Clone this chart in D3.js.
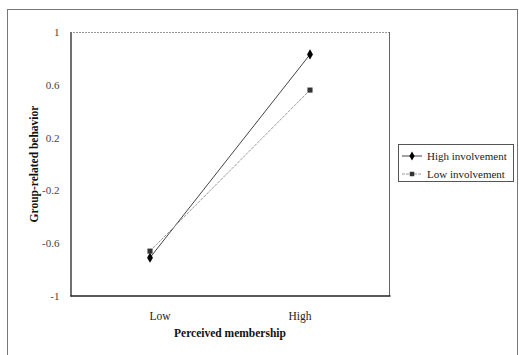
<!DOCTYPE html>
<html><head><meta charset="utf-8">
<script src="https://cdn.jsdelivr.net/npm/d3@7"></script>
<style>body{margin:0;background:#fff}svg{display:block}text{font-family:"Liberation Serif","Times New Roman",serif}</style>
</head><body><svg id="c" width="519" height="355"></svg>
<script>
const categories = ["Low", "High"];
const seriesNames = ["High involvement", "Low involvement"];
const highInvolvement = [-0.71, 0.83];
const lowInvolvement = [-0.66, 0.56];
const yTicks = [-1, -0.6, -0.2, 0.2, 0.6, 1];
const xTitle = "Perceived membership";
const yTitle = "Group-related behavior";

const svg = d3.select("#c");
// outer frame
svg.append("rect").attr("x", 7.5).attr("y", 9.5).attr("width", 510).attr("height", 350)
  .attr("fill", "none").attr("stroke", "#777").attr("stroke-width", 1);

const L = 70, R = 390, T = 32, B = 296;
const x = d3.scaleBand().domain(categories).range([L, R]);
const y = d3.scaleLinear().domain([-1, 1]).range([B, T]);

// plot border
svg.append("line").attr("x1", L).attr("x2", R).attr("y1", T + 0.5).attr("y2", T + 0.5).attr("stroke", "#999").attr("stroke-dasharray", "2,1");
svg.append("line").attr("x1", R - 0.5).attr("x2", R - 0.5).attr("y1", T).attr("y2", B).attr("stroke", "#666");

const yAxis = d3.axisLeft(y).tickValues(yTicks).tickSize(0).tickPadding(11)
  .tickFormat(d => String(d));
const gy = svg.append("g").attr("transform", `translate(${L + 0.5},0)`).call(yAxis);
gy.select(".domain").attr("stroke", "#222").attr("stroke-width", 1.3);
gy.selectAll("text").attr("font-size", 11).attr("fill", "#444");

const xAxis = d3.axisBottom(x).tickSize(0).tickPadding(16);
const gx = svg.append("g").attr("transform", `translate(0,${B - 0.5})`).call(xAxis);
gx.select(".domain").attr("stroke", "#222").attr("stroke-width", 1.3);
gx.selectAll("text").attr("font-size", 11.5).attr("fill", "#222")
  .attr("dx", (d, i) => i === 0 ? 10 : -10);

svg.append("text").attr("x", 230).attr("y", 337).attr("text-anchor", "middle")
  .attr("font-size", 11.5).attr("font-weight", "bold").attr("fill", "#111").text(xTitle);
svg.append("text").attr("transform", "translate(38,164) rotate(-90)").attr("text-anchor", "middle")
  .attr("font-size", 11.5).attr("font-weight", "bold").attr("fill", "#111").text(yTitle);

const cx = d => x(d) + x.bandwidth() / 2;
const line = d3.line().x((d, i) => cx(categories[i])).y(d => y(d));

const series = [
  {name: seriesNames[0], values: highInvolvement, color: "#444", dash: null, shape: "diamond"},
  {name: seriesNames[1], values: lowInvolvement, color: "#999", dash: "3,1", shape: "square"}
];

series.forEach(s => {
  svg.append("path").datum(s.values).attr("d", line).attr("fill", "none")
    .attr("stroke", s.color).attr("stroke-width", 1).attr("stroke-dasharray", s.dash);
  svg.selectAll(null).data(s.values).enter().append("path")
    .attr("transform", (d, i) => `translate(${cx(categories[i])},${y(d)})`)
    .attr("d", d3.symbol().type(s.shape === "diamond" ? d3.symbolDiamond : d3.symbolSquare).size(s.shape === "diamond" ? 30 : 26))
    .attr("fill", s.shape === "diamond" ? "#000" : "#333");
});

// legend
const lg = svg.append("g");
lg.append("rect").attr("x", 398.5).attr("y", 144.5).attr("width", 115).attr("height", 37)
  .attr("fill", "#fff").attr("stroke", "#555");
series.forEach((s, i) => {
  const ly = 156 + i * 18;
  lg.append("line").attr("x1", 402).attr("x2", 422).attr("y1", ly).attr("y2", ly)
    .attr("stroke", s.color).attr("stroke-dasharray", s.dash);
  lg.append("path").attr("transform", `translate(412,${ly})`)
    .attr("d", d3.symbol().type(s.shape === "diamond" ? d3.symbolDiamond : d3.symbolSquare).size(s.shape === "diamond" ? 24 : 20))
    .attr("fill", s.shape === "diamond" ? "#000" : "#333");
  lg.append("text").attr("x", 427).attr("y", ly + 3.5).attr("font-size", 11).attr("fill", "#222").text(s.name);
});
</script></body></html>
